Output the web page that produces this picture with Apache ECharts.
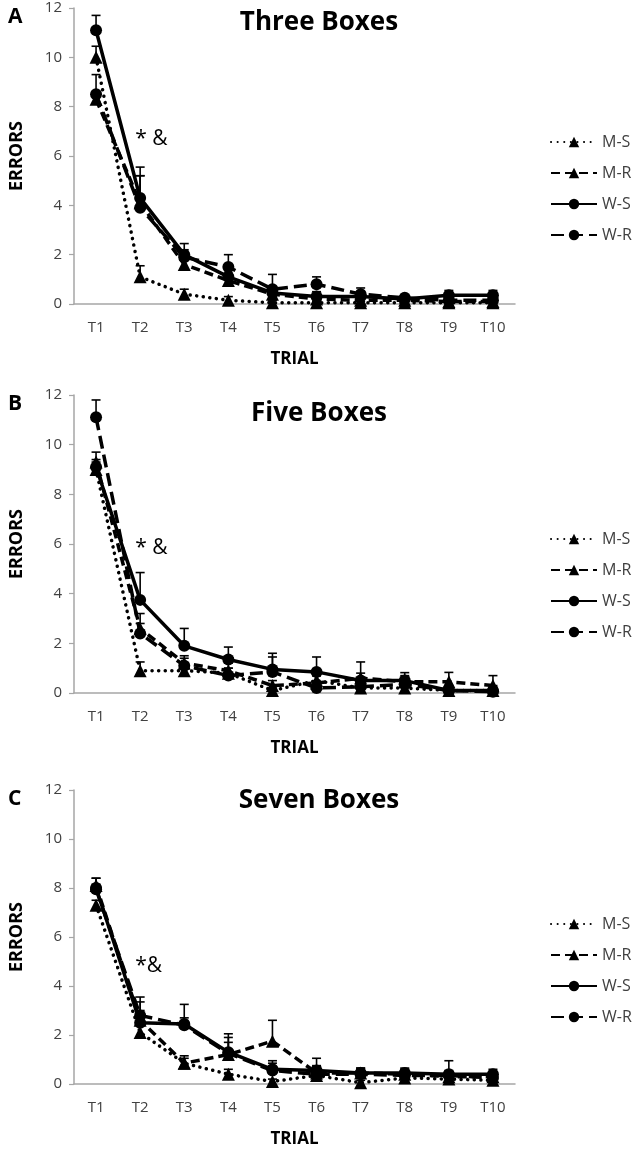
<!DOCTYPE html>
<html>
<head>
<meta charset="utf-8">
<script src="https://cdn.jsdelivr.net/npm/echarts@6/dist/echarts.min.js"></script>
<style>
  html, body { margin: 0; padding: 0; background: #fff; }
  #chart { width: 644px; height: 1149px; }
</style>
</head>
<body>
<div id="chart"></div>
<script>
// ---- categories / names ----
const trials = ['T1','T2','T3','T4','T5','T6','T7','T8','T9','T10'];
const groupNames = ['M-S','M-R','W-S','W-R'];
const panelTitles = ['Three Boxes','Five Boxes','Seven Boxes'];
const panelLetters = ['A','B','C'];
const yTicks = [0, 2, 4, 6, 8, 10, 12];

// ---- Panel A: Three Boxes (mean errors) ----
const threeMS = [10.0, 1.1, 0.4, 0.15, 0.05, 0.05, 0.05, 0.05, 0.05, 0.05];
const threeMR = [8.3, 4.1, 1.6, 0.95, 0.4, 0.2, 0.15, 0.15, 0.1, 0.1];
const threeWS = [11.1, 4.3, 2.0, 1.1, 0.45, 0.3, 0.3, 0.2, 0.35, 0.35];
const threeWR = [8.5, 3.9, 1.9, 1.5, 0.6, 0.8, 0.4, 0.25, 0.15, 0.15];
// upward error bars
const threeMSerr = [0.45, 0.45, 0.2, 0.15, 0.1, 0.05, 0.05, 0.05, 0.05, 0.05];
const threeMRerr = [0.3, 1.1, 0.4, 0.3, 0.2, 0.15, 0.15, 0.1, 0.2, 0.2];
const threeWSerr = [0.6, 1.25, 0.45, 0.3, 0.2, 0.2, 0.15, 0.1, 0.2, 0.2];
const threeWRerr = [0.8, 1.3, 0.3, 0.5, 0.6, 0.3, 0.25, 0.1, 0.1, 0.1];

// ---- Panel B: Five Boxes ----
const fiveMS = [9.0, 0.9, 0.9, 0.8, 0.1, 0.5, 0.2, 0.2, 0.1, 0.1];
const fiveMR = [9.3, 2.6, 1.2, 0.9, 0.3, 0.4, 0.6, 0.45, 0.45, 0.3];
const fiveWS = [9.1, 3.75, 1.9, 1.35, 0.95, 0.85, 0.5, 0.5, 0.1, 0.1];
const fiveWR = [11.1, 2.4, 1.1, 0.7, 0.85, 0.2, 0.25, 0.35, 0.1, 0.05];
const fiveMSerr = [0.3, 0.35, 0.2, 0.2, 0.1, 0.2, 0.1, 0.1, 0.1, 0.1];
const fiveMRerr = [0.4, 0.6, 0.3, 0.3, 0.2, 0.3, 0.65, 0.37, 0.38, 0.4];
const fiveWSerr = [0.3, 1.1, 0.7, 0.5, 0.65, 0.6, 0.3, 0.2, 0.2, 0.2];
const fiveWRerr = [0.7, 0.4, 0.3, 0.3, 0.6, 0.2, 0.2, 0.2, 0.1, 0.1];

// ---- Panel C: Seven Boxes ----
const sevenMS = [7.3, 2.1, 0.85, 0.4, 0.1, 0.35, 0.05, 0.25, 0.2, 0.15];
const sevenMR = [8.1, 2.6, 0.85, 1.2, 1.75, 0.45, 0.45, 0.4, 0.3, 0.3];
const sevenWS = [8.0, 2.5, 2.45, 1.3, 0.6, 0.55, 0.45, 0.45, 0.4, 0.4];
const sevenWR = [7.95, 2.8, 2.4, 1.25, 0.55, 0.4, 0.4, 0.35, 0.35, 0.25];
const sevenMSerr = [0.2, 0.3, 0.2, 0.2, 0.1, 0.1, 0.1, 0.1, 0.1, 0.1];
const sevenMRerr = [0.3, 0.95, 0.3, 0.7, 0.85, 0.3, 0.2, 0.2, 0.2, 0.2];
const sevenWSerr = [0.4, 0.5, 0.8, 0.75, 0.35, 0.5, 0.2, 0.2, 0.55, 0.2];
const sevenWRerr = [0.2, 0.55, 0.3, 0.45, 0.3, 0.3, 0.2, 0.2, 0.2, 0.2];

// significance annotations: [category, y value, text]
const annotations = [['T2', 6.7, '* &'], ['T2', 5.85, '* &'], ['T2', 4.8, '*&']];

const panels = [
  { vals: [threeMS, threeMR, threeWS, threeWR], errs: [threeMSerr, threeMRerr, threeWSerr, threeWRerr] },
  { vals: [fiveMS, fiveMR, fiveWS, fiveWR], errs: [fiveMSerr, fiveMRerr, fiveWSerr, fiveWRerr] },
  { vals: [sevenMS, sevenMR, sevenWS, sevenWR], errs: [sevenMSerr, sevenMRerr, sevenWSerr, sevenWRerr] }
];

// ---- styling ----
const FONT = 'Open Sans';
const styles = [
  { line: { type: [0.1, 6.5], width: 3.5, cap: 'round' }, symbol: 'triangle', size: 13 },
  { line: { type: [9, 5], width: 3.5 }, symbol: 'triangle', size: 13 },
  { line: { type: 'solid', width: 3.5 }, symbol: 'circle', size: 12 },
  { line: { type: [13, 6], width: 3.5 }, symbol: 'circle', size: 12 }
];
const gridTops = [8, 395, 790];
const gridHeights = [296, 298, 296];
const titleTops = [5, 396, 783];
const letterTops = [2, 389, 784];
const legendTops = [134, 531, 916];

function errRender(params, api) {
  const x = api.value(0), lo = api.value(1), hi = api.value(2);
  const p0 = api.coord([x, lo]);
  const p1 = api.coord([x, hi]);
  const w = 4.5;
  return {
    type: 'group',
    children: [
      { type: 'line', shape: { x1: p0[0], y1: p0[1], x2: p1[0], y2: p1[1] }, style: { stroke: '#000', lineWidth: 1.6 } },
      { type: 'line', shape: { x1: p1[0] - w, y1: p1[1], x2: p1[0] + w, y2: p1[1] }, style: { stroke: '#000', lineWidth: 1.6 } }
    ]
  };
}

const grid = [], xAxis = [], yAxis = [], series = [], title = [], legend = [];
panels.forEach((p, gi) => {
  grid.push({ left: 65, top: gridTops[gi], width: 450, height: gridHeights[gi] });
  xAxis.push({
    type: 'category', gridIndex: gi, data: trials, boundaryGap: true,
    name: 'TRIAL', nameLocation: 'middle', nameGap: 47,
    nameTextStyle: { fontFamily: FONT, fontWeight: 'bold', fontSize: 17, color: '#000' },
    axisLine: { lineStyle: { color: '#a6a6a6', width: 1.5 } },
    axisTick: { length: 5, lineStyle: { color: '#a6a6a6', width: 1.2 } },
    axisLabel: { fontFamily: FONT, fontSize: 15, color: '#404040', margin: 16 }
  });
  yAxis.push({
    type: 'value', gridIndex: gi, min: yTicks[0], max: yTicks[yTicks.length - 1], interval: 2,
    name: 'ERRORS', nameLocation: 'middle', nameGap: 48, nameRotate: 90,
    nameTextStyle: { fontFamily: FONT, fontWeight: 'bold', fontSize: 18, color: '#000' },
    splitLine: { show: false },
    axisLine: { show: true, lineStyle: { color: '#a6a6a6', width: 1.5 } },
    axisTick: { show: true, length: 5, lineStyle: { color: '#a6a6a6', width: 1.2 } },
    axisLabel: { fontFamily: FONT, fontSize: 15, color: '#404040', margin: 12 }
  });
  title.push({
    text: panelLetters[gi], left: 3, top: letterTops[gi],
    textStyle: { fontFamily: FONT, fontWeight: 'bold', fontSize: 21, color: '#000' }
  });
  title.push({
    text: panelTitles[gi], left: 314, top: titleTops[gi], textAlign: 'center',
    textStyle: { fontFamily: FONT, fontWeight: 'bold', fontSize: 26, color: '#000' }
  });
  legend.push({
    data: groupNames, orient: 'vertical', left: 550, top: legendTops[gi],
    itemWidth: 46, itemHeight: 13, itemGap: 15, padding: 0,
    textStyle: { fontFamily: FONT, fontSize: 16, color: '#404040' },
    selectedMode: false
  });
  p.vals.forEach((vals, si) => {
    const s = styles[si];
    const line = {
      name: groupNames[si], type: 'line', xAxisIndex: gi, yAxisIndex: gi,
      data: vals, symbol: s.symbol, symbolSize: s.size,
      itemStyle: { color: '#000' },
      lineStyle: { color: '#000', width: s.line.width, type: s.line.type, cap: s.line.cap || 'butt' },
      z: 3, animation: false
    };
    if (si === 0) {
      const a = annotations[gi];
      line.markPoint = {
        symbol: 'circle', symbolSize: 0, silent: true,
        data: [{ coord: [a[0], a[1]] }],
        label: { show: true, formatter: a[2], position: 'right', offset: [-10, 0],
          fontFamily: FONT, fontSize: 21, color: '#000' }
      };
    }
    series.push(line);
    series.push({
      type: 'custom', xAxisIndex: gi, yAxisIndex: gi, renderItem: errRender,
      data: trials.map((t, i) => [i, vals[i], vals[i] + p.errs[si][i]]),
      z: 2, animation: false, silent: true
    });
  });
});

const chart = echarts.init(document.getElementById('chart'), null, { renderer: 'canvas' });
chart.setOption({
  animation: false,
  backgroundColor: '#fff',
  title, legend, grid, xAxis, yAxis, series
});
</script>
</body>
</html>
